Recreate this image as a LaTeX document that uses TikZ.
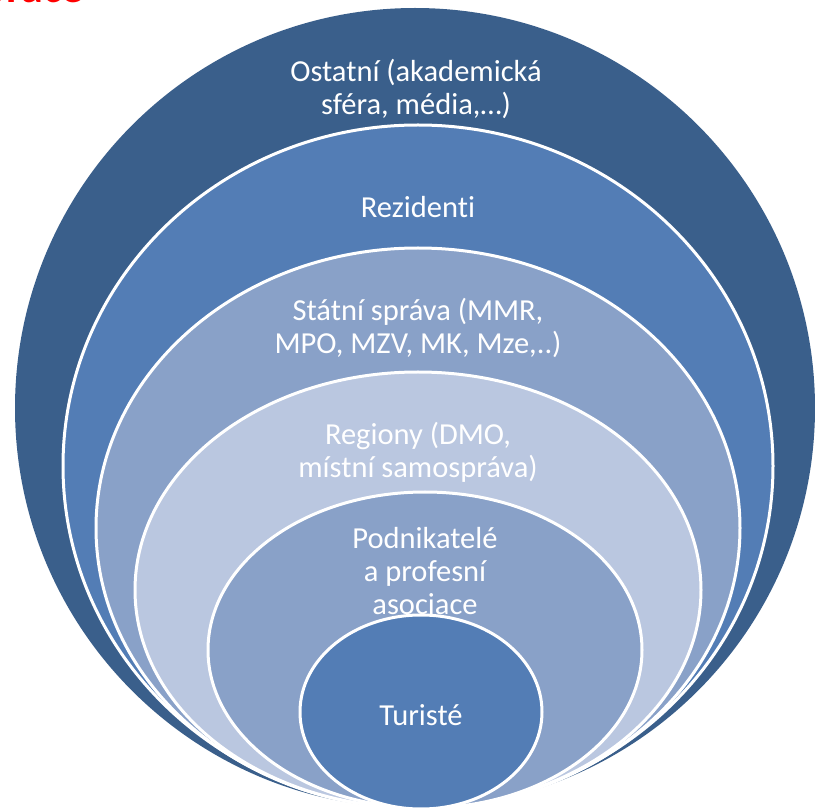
\documentclass[tikz,border=0pt]{standalone}
\usepackage{fontspec}
\setmainfont{Carlito}[Ligatures=NoCommon]
\usetikzlibrary{shapes.geometric}
\definecolor{ringdark}{RGB}{58,95,139}
\definecolor{ringmid}{RGB}{83,125,181}
\definecolor{ringlight}{RGB}{137,161,200}
\definecolor{ringpale}{RGB}{186,199,224}

\begin{document}
\begin{tikzpicture}[x=1pt,y=-1pt,
    ring/.style={ellipse,inner sep=0pt,draw=white,line width=3pt},
    lbl/.style={text=white,align=center,font=\fontsize{30.5}{33}\selectfont}]
    \useasboundingbox (0,0) rectangle (815,810);
    \node[text=red,anchor=base east,font=\fontsize{44}{50}\selectfont\bfseries] (title) at (87,2.5) {Spolupráce};

    \node[ring,draw=none,fill=ringdark,minimum width=800pt,minimum height=800pt] (ost) at (415,408) {};
    \node[ring,fill=ringmid,minimum width=710pt,minimum height=682pt]   (rez) at (418,466) {};
    \node[ring,fill=ringlight,minimum width=644pt,minimum height=560pt] (stat) at (418,528) {};
    \node[ring,fill=ringpale,minimum width=566pt,minimum height=436pt]  (reg) at (418,590) {};
    \node[ring,fill=ringlight,minimum width=434pt,minimum height=316pt] (podn) at (425,650) {};
    \node[ring,fill=ringmid,minimum width=242pt,minimum height=194pt]   (tur) at (421,712) {};

    \node[lbl] (ost-t)  at (416,89)  {Ostatní (akademická\\sféra, média,…)};
    \node[lbl] (rez-t)  at (418,207) {Rezidenti};
    \node[lbl] (stat-t) at (418,328) {Státní správa (MMR,\\MPO, MZV, MK, Mze,..)};
    \node[lbl] (reg-t)  at (418,452) {Regiony (DMO,\\místní samospráva)};
    \node[lbl] (podn-t) at (425,571) {Podnikatelé\\a profesní\\asociace};
    \node[lbl] (tur-t)  at (421,715) {Turisté};

  \end{tikzpicture}
\end{document}
